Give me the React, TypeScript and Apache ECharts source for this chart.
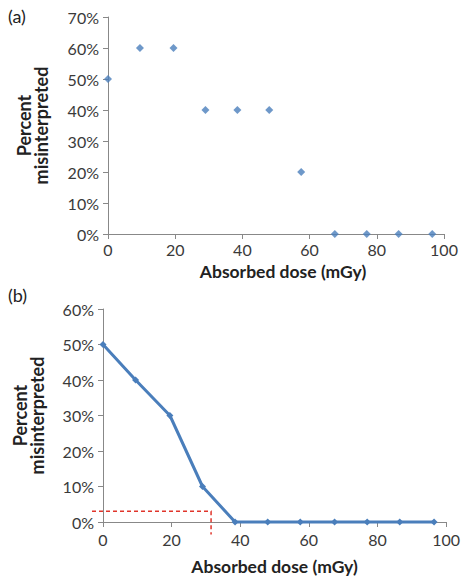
import React, { useEffect, useRef } from "react";
import * as echarts from "echarts";

const doseA = [0, 9.5, 19.5, 29, 38.5, 48, 57.5, 67.5, 77, 86.5, 96.5];
const pctA = [50, 60, 60, 40, 40, 40, 20, 0, 0, 0, 0];
const doseB = [0, 9.5, 19.5, 29, 38.5, 48, 57.5, 67.5, 77, 86.5, 96.5];
const pctB = [50, 40, 30, 10, 0, 0, 0, 0, 0, 0, 0];
const thresholdX = [-3.2, 31.5, 31.5];
const thresholdY = [3, 3, -3.5];
const xTicks = [0, 100, 20];
const yTicksA = [0, 70, 10];
const yTicksB = [0, 60, 10];

const FONT = "Lato, 'Open Sans', sans-serif";
const BLUE = "#4A7EBB";
const AXIS = "#888888";
const TXT = "#3a3a3a";

export default function App() {
  const ref = useRef<HTMLDivElement>(null);
  useEffect(() => {
    if (!ref.current) return;
    const chart = echarts.init(ref.current, null, { renderer: "svg" });
    const xAxisBase = (gridIndex: number, gap: number, shift: number, lm: number) => ({
      type: "value" as const,
      gridIndex,
      min: xTicks[0],
      max: xTicks[1],
      interval: xTicks[2],
      splitLine: { show: false },
      axisLine: { lineStyle: { color: AXIS, width: 1 } },
      axisTick: { show: true, length: 5, lineStyle: { color: AXIS } },
      axisLabel: { color: TXT, fontFamily: FONT, fontSize: 16, margin: lm },
      name: "Absorbed dose (mGy)",
      nameLocation: "middle" as const,
      nameGap: gap,
      nameTextStyle: {
        color: "#222",
        fontFamily: FONT,
        fontSize: 17.5,
        fontWeight: "bold" as const,
        padding: [0, 0, 0, shift],
      },
    });
    const yAxisBase = (gridIndex: number, t: number[], gap: number) => ({
      type: "value" as const,
      gridIndex,
      min: t[0],
      max: t[1],
      interval: t[2],
      splitLine: { show: false },
      axisLine: { show: true, lineStyle: { color: AXIS, width: 1 } },
      axisTick: { show: true, length: 5, lineStyle: { color: AXIS } },
      axisLabel: { color: TXT, fontFamily: FONT, fontSize: 16, margin: 9, formatter: "{value}%" },
      name: "Percent\nmisinterpreted",
      nameLocation: "middle" as const,
      nameRotate: 90,
      nameGap: gap,
      nameTextStyle: { color: "#222", fontFamily: FONT, fontSize: 18, fontWeight: "bold" as const, lineHeight: 17 },
    });
    chart.setOption({
      animation: false,
      backgroundColor: "#fff",
      grid: [
        { left: 108, right: 19, top: 17, height: 217 },
        { left: 103, right: 15, top: 309, height: 213 },
      ],
      xAxis: [xAxisBase(0, 28, 14, 7), xAxisBase(1, 35, 0, 9)],
      yAxis: [yAxisBase(0, yTicksA, 59), yAxisBase(1, yTicksB, 58)],
      graphic: [
        { type: "text", left: 8, top: 7, style: { text: "(a)", fontFamily: FONT, fontSize: 18, fill: "#222" } },
        { type: "text", left: 8, top: 286, style: { text: "(b)", fontFamily: FONT, fontSize: 18, fill: "#222" } },
      ],
      series: [
        {
          type: "scatter",
          xAxisIndex: 0,
          yAxisIndex: 0,
          symbol: "diamond",
          symbolSize: 8,
          itemStyle: { color: BLUE },
          data: doseA.map((d, i) => [d, pctA[i]]),
          clip: false,
        },
        {
          type: "line",
          xAxisIndex: 1,
          yAxisIndex: 1,
          symbol: "diamond",
          symbolSize: 7,
          showSymbol: true,
          itemStyle: { color: BLUE },
          lineStyle: { color: BLUE, width: 3 },
          data: doseB.map((d, i) => [d, pctB[i]]),
          clip: false,
          z: 3,
        },
        {
          type: "custom",
          xAxisIndex: 1,
          yAxisIndex: 1,
          clip: false,
          z: 2,
          data: [[thresholdX[1], thresholdY[1]]],
          renderItem: (_params: any, api: any) => ({
            type: "polyline",
            shape: { points: thresholdX.map((x, i) => api.coord([x, thresholdY[i]])) },
            style: { stroke: "#E0352B", lineWidth: 1.5, lineDash: [4, 3], fill: "none" },
          }),
        },
      ],
    });
    return () => chart.dispose();
  }, []);
  return <div ref={ref} style={{ width: 463, height: 578, position: "absolute", left: 0, top: 0 }} />;
}
